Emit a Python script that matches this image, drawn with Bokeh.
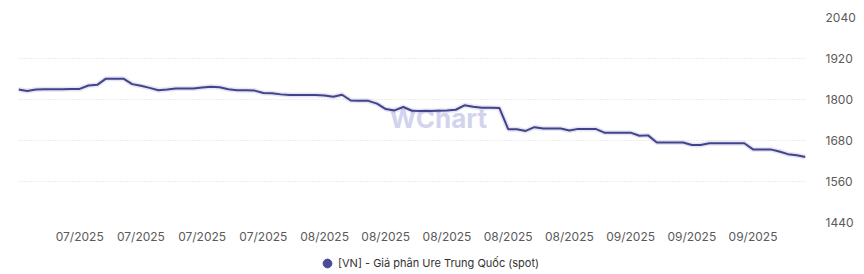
from datetime import date, timedelta

from bokeh.plotting import figure
from bokeh.layouts import column
from bokeh.models import (Range1d, FixedTicker, LinearAxis, Legend, LegendItem,
                          ColumnDataSource, Label)
from bokeh.embed import file_html
from bokeh.resources import INLINE

# ---- data -------------------------------------------------------------
start = date(2025, 6, 27)
prices = [
    1829, 1825, 1829, 1830, 1830, 1830, 1831, 1831, 1841, 1843,
    1861, 1861, 1861, 1845, 1840, 1834, 1827, 1829, 1832, 1832,
    1832, 1835, 1837, 1836, 1830, 1827, 1827, 1826, 1819, 1818,
    1815, 1813, 1813, 1813, 1813, 1812, 1808, 1814, 1797, 1796,
    1796, 1788, 1772, 1768, 1778, 1767, 1766, 1766, 1767, 1768,
    1770, 1783, 1779, 1776, 1776, 1775, 1713, 1713, 1708, 1719,
    1715, 1715, 1715, 1709, 1714, 1714, 1714, 1703, 1703, 1703,
    1703, 1694, 1695, 1674, 1674, 1674, 1674, 1667, 1667, 1672,
    1672, 1672, 1672, 1672, 1654, 1654, 1654, 1648, 1640, 1637,
    1632,
]
dates = [(start + timedelta(days=i)).strftime("%d/%m/%Y") for i in range(len(prices))]
y_ticks = [1440, 1560, 1680, 1800, 1920, 2040]
series_name = "[VN] - Giá phân Ure Trung Quốc (spot)"

idx = list(range(len(prices)))
tick_idx = idx[7::7][:12]
tick_labels = {i: dates[i][3:] for i in tick_idx}

LINE = "#43438c"
FONT = "Inter"

src = ColumnDataSource(dict(x=idx, y=prices, d=dates))

p = figure(width=864, height=248, output_backend="svg", toolbar_location=None,
           x_range=Range1d(0, len(prices) - 1), y_range=Range1d(1440, 2040),
           y_axis_location=None, min_border_left=18, min_border_right=59,
           min_border_top=17, min_border_bottom=26)
p.outline_line_color = None
p.background_fill_color = "white"
p.border_fill_color = "white"

# right axis
ra = LinearAxis(ticker=FixedTicker(ticks=y_ticks))
ra.axis_line_color = None
ra.major_tick_line_color = None
ra.minor_tick_line_color = None
ra.major_tick_out = 0
ra.major_label_standoff = 20
ra.major_label_text_font = FONT
ra.major_label_text_font_size = "12px"
ra.major_label_text_color = "#5a5a5a"
p.add_layout(ra, "right")

xa = p.xaxis[0]
xa.ticker = FixedTicker(ticks=tick_idx)
xa.major_label_overrides = tick_labels
xa.axis_line_color = None
xa.major_tick_line_color = None
xa.minor_tick_line_color = None
xa.major_tick_out = 0
xa.major_label_standoff = 6
xa.major_label_text_font = FONT
xa.major_label_text_font_size = "12px"
xa.major_label_text_color = "#5a5a5a"

p.xgrid.grid_line_color = None
p.ygrid.ticker = FixedTicker(ticks=y_ticks)
p.ygrid.grid_line_color = "#d9d9d9"
p.ygrid.grid_line_dash = "1 2"
p.ygrid.grid_line_width = 1

# watermark
wm = Label(x=48, y=1743, text="WChart", text_font=FONT, text_font_size="26px",
           text_font_style="bold", text_color="#d2d4ee", text_align="center",
           text_baseline="middle", level="underlay")
p.add_layout(wm)

# glow + line
p.line("x", "y", source=src, line_color="#a9a9dc", line_width=5, line_alpha=0.3)
p.line("x", "y", source=src, line_color=LINE, line_width=2)

# ---- legend strip ------------------------------------------------------
lg = figure(width=864, height=26, output_backend="svg", toolbar_location=None,
            x_axis_location=None, y_axis_location=None,
            x_range=Range1d(0, 1), y_range=Range1d(0, 1),
            min_border=0, min_border_left=0, min_border_right=0,
            min_border_top=0, min_border_bottom=0)
lg.outline_line_color = None
lg.xgrid.visible = False
lg.ygrid.visible = False
dummy = lg.scatter(x=[float("nan")], y=[float("nan")], size=10, marker="circle",
                   fill_color="#4a4a9c", line_color="#4a4a9c")
legend = Legend(items=[LegendItem(label=series_name, renderers=[dummy])],
                location=(298, 0), orientation="horizontal",
                glyph_width=22, glyph_height=22, label_standoff=0,
                label_height=22, padding=0, spacing=0, margin=0,
                border_line_color=None, background_fill_alpha=0,
                label_text_font=FONT, label_text_font_size="11px",
                label_text_color="#333333")
lg.add_layout(legend, "center")

layout = column(p, lg, spacing=0)
open("out.html", "w").write(file_html(layout, INLINE))
